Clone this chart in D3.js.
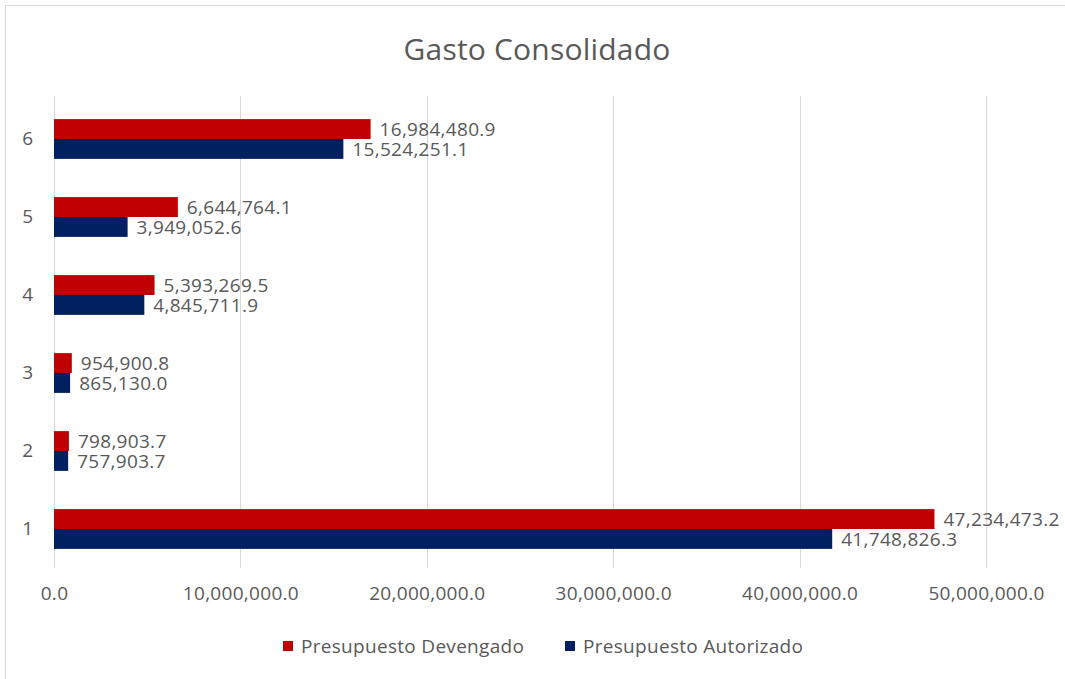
<!DOCTYPE html>
<html>
<head>
<meta charset="utf-8">
<script src="https://cdn.jsdelivr.net/npm/d3@7"></script>
<style>
  body { margin: 0; background: #fff; }
  svg { display: block; }
</style>
</head>
<body>
<svg id="chart" width="1065" height="679"></svg>
<script>
var categories = ["1", "2", "3", "4", "5", "6"];
var devengado = [47234473.2, 798903.7, 954900.8, 5393269.5, 6644764.1, 16984480.9];
var autorizado = [41748826.3, 757903.7, 865130.0, 4845711.9, 3949052.6, 15524251.1];
var seriesNames = ["Presupuesto Devengado", "Presupuesto Autorizado"];
var xTicks = [0, 10000000, 20000000, 30000000, 40000000, 50000000];

var svg = d3.select("#chart"),
    margin = {top: 100, right: 79, bottom: 111, left: 54},
    width = +svg.attr("width") - margin.left - margin.right,
    height = +svg.attr("height") - margin.top - margin.bottom;

var font = "'Open Sans', sans-serif";
var textColor = "#595959";

// chart frame
svg.append("rect")
    .attr("x", 5.5).attr("y", 5.5)
    .attr("width", 1080).attr("height", 700)
    .attr("fill", "#fff")
    .attr("stroke", "#d9d9d9");

svg.append("text")
    .attr("x", 537).attr("y", 60)
    .attr("text-anchor", "middle")
    .attr("font-family", font)
    .attr("font-size", 30)
    .attr("letter-spacing", 0.2)
    .attr("fill", textColor)
    .text("Gasto Consolidado");

var g = svg.append("g").attr("transform", "translate(" + margin.left + "," + margin.top + ")");

var x = d3.scaleLinear().domain([0, 50000000]).range([0, width]);

// category 1 at bottom
var y0 = d3.scaleBand()
    .domain(categories.slice().reverse())
    .range([0, height])
    .paddingInner(0.49)
    .paddingOuter(0.245);

var y1 = d3.scaleBand()
    .domain(seriesNames)
    .range([0, y0.bandwidth()]);

var z = d3.scaleOrdinal().domain(seriesNames).range(["#c00000", "#002060"]);

var fmt = d3.format(",.1f");

// gridlines
g.append("g")
    .selectAll("line")
    .data(xTicks)
    .enter().append("line")
    .attr("x1", function (d) { return Math.round(x(d)) + 0.5; })
    .attr("x2", function (d) { return Math.round(x(d)) + 0.5; })
    .attr("y1", -4)
    .attr("y2", height)
    .attr("stroke", "#d9d9d9")
    .attr("stroke-width", 1);

var data = categories.map(function (c, i) {
    return {cat: c, values: [
        {key: seriesNames[0], value: devengado[i]},
        {key: seriesNames[1], value: autorizado[i]}
    ]};
});

var groups = g.append("g")
    .selectAll("g")
    .data(data)
    .enter().append("g")
    .attr("transform", function (d) { return "translate(0," + y0(d.cat) + ")"; });

groups.selectAll("rect")
    .data(function (d) { return d.values; })
    .enter().append("rect")
    .attr("x", x(0))
    .attr("y", function (d) { return y1(d.key); })
    .attr("width", function (d) { return x(d.value) - x(0); })
    .attr("height", y1.bandwidth())
    .attr("fill", function (d) { return z(d.key); });

groups.selectAll("text")
    .data(function (d) { return d.values; })
    .enter().append("text")
    .attr("x", function (d) { return x(d.value) + 9; })
    .attr("y", function (d) { return y1(d.key) + y1.bandwidth() / 2; })
    .attr("dy", "0.35em")
    .attr("font-family", font)
    .attr("font-size", 19)
    .attr("letter-spacing", 0.3)
    .attr("fill", textColor)
    .text(function (d) { return fmt(d.value); });

// x axis labels
var xAxis = g.append("g")
    .attr("transform", "translate(0," + height + ")")
    .call(d3.axisBottom(x).tickValues(xTicks).tickFormat(fmt).tickSize(0).tickPadding(19));
xAxis.select(".domain").remove();
xAxis.selectAll("text")
    .attr("font-family", font)
    .attr("font-size", 19)
    .attr("letter-spacing", 0.3)
    .attr("fill", textColor);

// y axis labels
var yAxis = g.append("g")
    .call(d3.axisLeft(y0).tickSize(0).tickPadding(21));
yAxis.select(".domain").remove();
yAxis.selectAll("text")
    .attr("font-family", font)
    .attr("font-size", 19)
    .attr("fill", textColor);

// legend
var legend = svg.append("g")
    .attr("font-family", font)
    .attr("font-size", 19)
    .attr("letter-spacing", 0.3)
    .attr("fill", textColor)
    .selectAll("g")
    .data(seriesNames)
    .enter().append("g")
    .attr("transform", function (d, i) { return "translate(" + (283 + i * 282) + ",641)"; });

legend.append("rect")
    .attr("width", 10)
    .attr("height", 10)
    .attr("fill", z);

legend.append("text")
    .attr("x", 18)
    .attr("y", 5)
    .attr("dy", "0.35em")
    .text(function (d) { return d; });
</script>
</body>
</html>
